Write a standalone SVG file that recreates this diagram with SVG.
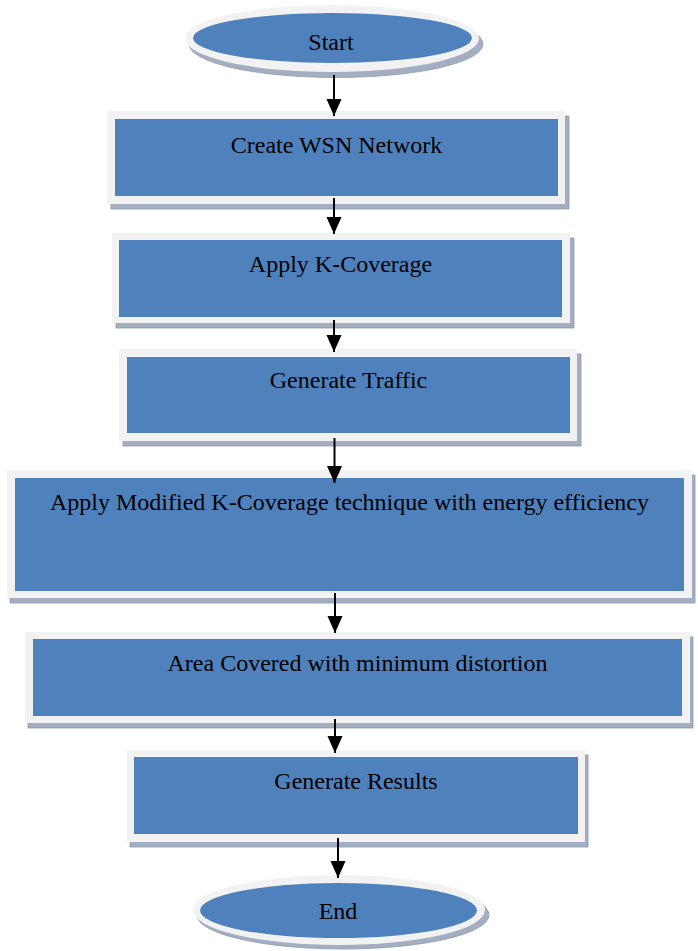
<svg xmlns="http://www.w3.org/2000/svg" width="698" height="951" viewBox="0 0 698 951">
  <style>
    .shadow { fill: #a3aec2; stroke: #8e9ab0; stroke-width: 0.8; }
    .halo { fill: #f2f2f2; }
    .body { fill: #4f81bd; }
    .label { font-family: "Liberation Serif", "Times New Roman", serif; font-size: 24px; fill: #000; text-anchor: middle; }
    .flow { stroke: #000; stroke-width: 2; fill: none; marker-end: url(#head); }
  </style>
  <defs>
    <marker id="head" markerUnits="userSpaceOnUse" markerWidth="18" markerHeight="16" refX="17" refY="7.5" orient="auto">
      <path d="M0,0 L17,7.5 L0,15 z" fill="#000"/>
    </marker>
  </defs>
  <rect width="698" height="951" fill="#ffffff"/>

  <!-- terminal: Start -->
  <g id="start">
    <ellipse class="shadow" cx="336" cy="44" rx="147" ry="33.5"/>
    <ellipse class="halo" cx="332" cy="38.5" rx="147" ry="33.5"/>
    <ellipse class="body" cx="332.5" cy="38" rx="139.5" ry="25"/>
    <text class="label" x="331" y="50">Start</text>
  </g>

  <!-- process steps -->
  <g id="create-wsn">
    <rect class="shadow" x="111" y="116" width="458" height="93"/>
    <rect class="halo" x="107" y="111" width="458" height="93"/>
    <rect class="body" x="115" y="119" width="443" height="77"/>
    <text class="label" x="336.5" y="153">Create WSN Network</text>
  </g>

  <g id="apply-kcoverage">
    <rect class="shadow" x="116" y="238" width="458" height="90"/>
    <rect class="halo" x="112" y="233" width="458" height="90"/>
    <rect class="body" x="119" y="240" width="443" height="77"/>
    <text class="label" x="340.5" y="272">Apply K-Coverage</text>
  </g>

  <g id="generate-traffic">
    <rect class="shadow" x="123" y="354" width="458" height="92"/>
    <rect class="halo" x="119" y="349" width="458" height="92"/>
    <rect class="body" x="127" y="357" width="443" height="76"/>
    <text class="label" x="348.5" y="388">Generate Traffic</text>
  </g>

  <g id="modified-kcoverage">
    <rect class="shadow" x="10" y="475" width="685" height="128"/>
    <rect class="halo" x="7" y="470" width="685" height="128"/>
    <rect class="body" x="15" y="478" width="669" height="113"/>
    <text class="label" x="349.5" y="510">Apply Modified K-Coverage technique with energy efficiency</text>
  </g>

  <g id="area-covered">
    <rect class="shadow" x="28" y="637" width="665" height="91"/>
    <rect class="halo" x="25" y="632" width="665" height="91"/>
    <rect class="body" x="33" y="639" width="649" height="77"/>
    <text class="label" x="357.5" y="671">Area Covered with minimum distortion</text>
  </g>

  <g id="generate-results">
    <rect class="shadow" x="130" y="755" width="458" height="92"/>
    <rect class="halo" x="127" y="750" width="458" height="92"/>
    <rect class="body" x="134" y="757" width="444" height="77"/>
    <text class="label" x="356" y="789">Generate Results</text>
  </g>

  <!-- terminal: End -->
  <g id="end">
    <ellipse class="shadow" cx="343" cy="915" rx="146" ry="34"/>
    <ellipse class="halo" cx="339" cy="910" rx="146" ry="35"/>
    <ellipse class="body" cx="338.5" cy="910.5" rx="138.5" ry="27.5"/>
    <text class="label" x="338" y="919">End</text>
  </g>

  <!-- connectors -->
  <g id="connectors">
    <line class="flow" x1="334" y1="75" x2="334" y2="116"/>
    <line class="flow" x1="334" y1="198" x2="334" y2="234"/>
    <line class="flow" x1="334" y1="320" x2="334" y2="352"/>
    <line class="flow" x1="334.5" y1="438" x2="334.5" y2="483"/>
    <line class="flow" x1="335" y1="593" x2="335" y2="633"/>
    <line class="flow" x1="335" y1="719" x2="335" y2="753"/>
    <line class="flow" x1="338" y1="838" x2="338" y2="878"/>
  </g>
</svg>
